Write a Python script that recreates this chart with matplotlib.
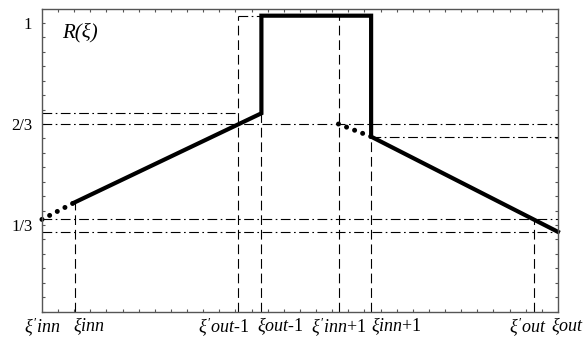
import numpy as np
import matplotlib
matplotlib.use("Agg")
import matplotlib.pyplot as plt

plt.rcParams['font.family'] = ['Liberation Serif', 'DejaVu Serif']
plt.rcParams['mathtext.fontset'] = 'custom'
plt.rcParams['mathtext.it'] = 'Liberation Serif:italic'
plt.rcParams['mathtext.rm'] = 'Liberation Serif'
plt.rcParams['lines.scale_dashes'] = False

# characteristic points along xi
xi_p_inn = 0.0    # xi'_inn
xi_inn = 0.11
xi_p_out = 1.66   # xi'_out
xi_out = 1.74

# levels of R(xi) at those points
R_p_inn = 0.352       # also R(xi'_out)
R_inn = 0.408
R_out_m1 = 0.702      # R(xi_out - 1)
R_top = 1.024
R_p_inn_p1 = 2 / 3    # R(xi'_inn + 1), also R(xi'_out - 1)
R_inn_p1 = 0.625
R_out = 0.311

xtick_pos = [xi_p_inn, xi_inn, xi_p_out - 1, xi_out - 1,
             xi_p_inn + 1, xi_inn + 1, xi_p_out, xi_out]
xtick_lab = [r"$\xi'inn$", r"$\xi inn$", r"$\xi'out$-1", r"$\xi out$-1",
             r"$\xi'inn$+1", r"$\xi inn$+1", r"$\xi'out$", r"$\xi out$"]
# sideways nudges (pixels) so neighbouring labels don't collide
xtick_shift = [0, 14, -14, 19, 0, 25, -6, 10]
ytick_pos = [1 / 3, 2 / 3, 1]
ytick_lab = ["1/3", "2/3", "1"]

fig = plt.figure(figsize=(5.83, 3.41), dpi=100)
ax = fig.add_axes([0.072, 0.086, 0.885, 0.889])

ylo, yhi = 1 / 21, 22 / 21
ax.set_xlim(xi_p_inn, xi_out)
ax.set_ylim(ylo, yhi)

dash = dict(color='black', lw=0.8, dashes=(7, 3.5))
dashdot = dict(color='black', lw=0.8, dashes=(7, 2.5, 1.2, 2.5))

# horizontal dash-dot guides
ax.plot([xi_p_inn, xi_out], [R_p_inn_p1, R_p_inn_p1], **dashdot)
ax.plot([xi_p_inn, xi_out], [R_p_inn, R_p_inn], **dashdot)
ax.plot([xi_p_inn, xi_out], [R_out, R_out], **dashdot)
ax.plot([xi_p_inn, xi_p_out - 1], [R_out_m1, R_out_m1], **dashdot)
ax.plot([xi_p_out - 1, xi_out - 1], [R_top, R_top], **dashdot)
ax.plot([xi_inn + 1, xi_out], [R_inn_p1, R_inn_p1], **dashdot)

# vertical dashed guides
ax.plot([xi_inn, xi_inn], [ylo, R_inn], **dash)
ax.plot([xi_p_out - 1, xi_p_out - 1], [ylo, R_top], **dash)
ax.plot([xi_out - 1, xi_out - 1], [ylo, R_out_m1], **dash)
ax.plot([xi_p_inn + 1, xi_p_inn + 1], [ylo, R_top], **dash)
ax.plot([xi_inn + 1, xi_inn + 1], [ylo, R_inn_p1], **dash)
ax.plot([xi_p_out, xi_p_out], [ylo, R_p_inn], **dash)

# R(xi) itself
ax.plot([xi_inn, xi_out - 1, xi_out - 1, xi_inn + 1, xi_inn + 1, xi_out],
        [R_inn, R_out_m1, R_top, R_top, R_inn_p1, R_out],
        color='black', lw=3.0, solid_joinstyle='miter', clip_on=False)

# dotted continuations
dots = dict(color='black', lw=3.6, dashes=(0.01, 6.2), dash_capstyle='round',
            clip_on=False)
ax.plot([xi_p_inn, xi_inn], [R_p_inn, R_inn], **dots)
ax.plot([xi_p_inn + 1, xi_inn + 1], [R_p_inn_p1, R_inn_p1], **dots)

ax.text(0.039, 0.92, "R(ξ)", transform=ax.transAxes, fontsize=15,
        style='italic', va='center', ha='left')

# x labels drawn by hand so each one can be nudged sideways
ax.set_xticks(xtick_pos)
ax.set_xticklabels([])
for pos, lab, dx in zip(xtick_pos, xtick_lab, xtick_shift):
    ax.annotate(lab, xy=(pos, 0), xycoords=ax.get_xaxis_transform(),
                xytext=(dx, -4), textcoords='offset pixels',
                ha='center', va='top', fontsize=13, annotation_clip=False)
ax.set_xticks(np.linspace(xi_p_inn, xi_out, 33), minor=True)
ax.set_yticks(ytick_pos)
ax.set_yticklabels(ytick_lab, fontsize=12)
ax.set_yticks(np.arange(1, 22) / 21, minor=True)

ax.tick_params(axis='x', which='major', length=0)
ax.tick_params(axis='y', which='major', direction='in', length=2.5,
               width=0.8, color='#555555', right=True, pad=7)
ax.tick_params(which='minor', direction='in', length=2.5, width=0.8,
               color='#555555', top=True, right=True)
for s in ax.spines.values():
    s.set_color('#555555')
    s.set_linewidth(1.0)

fig.savefig('out.png', dpi=100)
